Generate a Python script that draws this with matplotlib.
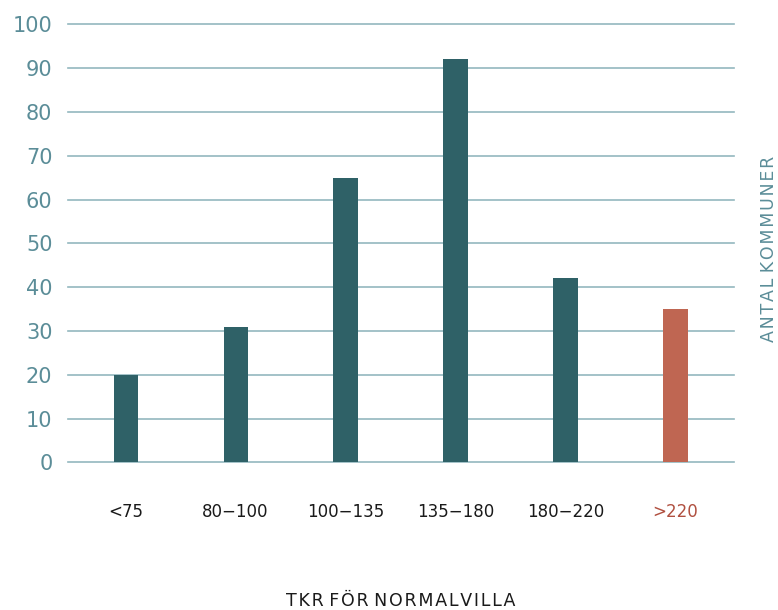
import numpy as np
import matplotlib.pyplot as plt

# antal kommuner per prisklass (tkr för normalvilla)
categories = ['<75', '80−100', '100−135', '135−180', '180−220', '>220']
counts = [20, 31, 65, 92, 42, 35]
yticks = [0, 10, 20, 30, 40, 50, 60, 70, 80, 90, 100]

teal = '#2f6167'
rust = '#bf6652'
grid_col = '#93b8bf'
tick_col = '#5b8d98'

plt.rcParams['font.family'] = ['DejaVu Sans']


def spaced(s, gap='\u200a'):
    # widen the letter spacing inside each word, keep the word gaps
    return ' '.join(gap.join(w) for w in s.split(' '))


fig = plt.figure(figsize=(7.78, 6.10), dpi=100)
ax = fig.add_axes([0.087, 0.242, 0.857, 0.718])

x = np.arange(len(categories))
colors = [teal] * (len(categories) - 1) + [rust]
ax.bar(x, counts, width=0.22, color=colors, zorder=3)

ax.set_ylim(0, 100)
ax.set_xlim(-0.527, 5.536)
ax.set_yticks(yticks)
for y in yticks:
    ax.axhline(y, color=grid_col, lw=1.2, zorder=1, clip_on=False)

for s in ax.spines.values():
    s.set_visible(False)

ax.tick_params(axis='y', length=0, pad=11, labelsize=15, labelcolor=tick_col)
ax.set_xticks(x)
ax.set_xticklabels(categories)
ax.tick_params(axis='x', length=0, pad=29, labelsize=12, labelcolor='#1a1a1a')
ax.get_xticklabels()[-1].set_color('#b05040')

fig.text(0.5155, 0.015, spaced('TKR FÖR NORMALVILLA'), ha='center', va='center',
         fontsize=12.5, color='#1a1a1a')
fig.text(0.988, 0.592, spaced('ANTAL KOMMUNER'), ha='center', va='center',
         rotation=90, fontsize=12.5, color=tick_col)

fig.savefig('out.png', dpi=100)
